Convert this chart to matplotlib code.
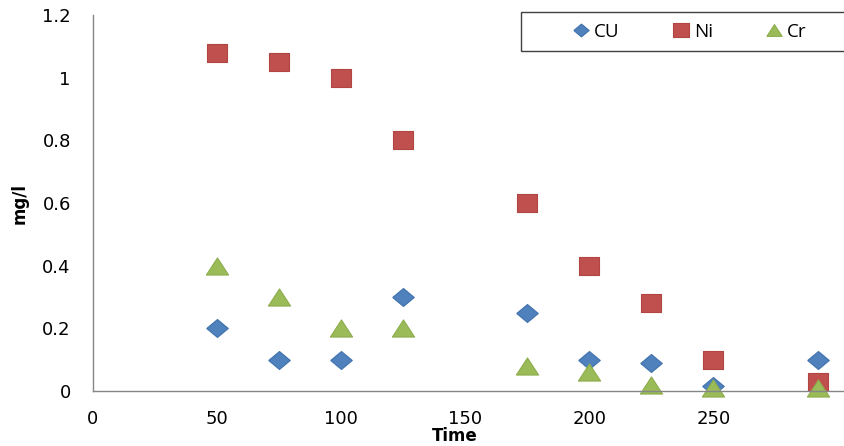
import matplotlib
matplotlib.use("Agg")
import matplotlib.pyplot as plt
from matplotlib.patches import Rectangle

time = [50, 75, 100, 125, 175, 200, 225, 250, 292]
cu = [0.2, 0.1, 0.1, 0.3, 0.25, 0.1, 0.09, 0.015, 0.1]
ni = [1.08, 1.05, 1.0, 0.8, 0.6, 0.4, 0.28, 0.1, 0.03]
cr = [0.4, 0.3, 0.2, 0.2, 0.08, 0.06, 0.02, 0.01, 0.01]
xticks = [0, 50, 100, 150, 200, 250]
yticks = [0, 0.2, 0.4, 0.6, 0.8, 1.0, 1.2]
yticklabels = ["0", "0.2", "0.4", "0.6", "0.8", "1", "1.2"]

W, H = 845, 446
fig = plt.figure(figsize=(W/100, H/100), dpi=100)
ax = fig.add_axes([93/W, 1-391/H, 1-93/W, (391-15)/H])

diamond = [(-1.2, 0), (0, 1), (1.2, 0), (0, -1), (-1.2, 0)]
square = [(-1.1, -1), (1.1, -1), (1.1, 1), (-1.1, 1), (-1.1, -1)]
triangle = [(-1.3, -1), (1.3, -1), (0, 1), (-1.3, -1)]

ax.plot(time, cu, linestyle="none", marker=diamond, markersize=15.5, color="#4F81BD",
        markeredgecolor="#3F71AD", markeredgewidth=0.8, label="CU", clip_on=False)
ax.plot(time, ni, linestyle="none", marker=square, markersize=15, color="#C0504D",
        markeredgecolor="#B04541", markeredgewidth=0.8, label="Ni", clip_on=False)
ax.plot(time, cr, linestyle="none", marker=triangle, markersize=16, color="#9BBB59",
        markeredgecolor="#8DAD4C", markeredgewidth=0.8, label="Cr", clip_on=False)

ax.set_xlim(0, 303)
ax.set_ylim(0, 1.2)
ax.set_xticks(xticks)
ax.set_xticklabels([str(v) for v in xticks])
ax.set_yticks(yticks)
ax.set_yticklabels(yticklabels)
ax.tick_params(axis="both", length=0, labelsize=13, colors="#000000")
ax.tick_params(axis="y", pad=16)
ax.tick_params(axis="x", pad=14)
for s in ["top", "right"]:
    ax.spines[s].set_visible(False)
for s in ["left", "bottom"]:
    ax.spines[s].set_color("#868686")
    ax.spines[s].set_linewidth(1.0)

ax.set_xlabel("Time", fontsize=12, fontweight="bold")
ax.xaxis.set_label_coords((455-93)/(W-93), -(427-391)/376)
ax.set_ylabel("mg/l", fontsize=12, fontweight="bold")
ax.yaxis.set_label_coords(-(93-29)/(W-93), (391-204)/376)

leg = ax.legend(loc="center left", bbox_to_anchor=(571.5/W, 1-32/H),
                bbox_transform=fig.transFigure, ncol=3, frameon=False,
                prop={"family": "Open Sans", "size": 13.5},
                borderpad=0, handlelength=1.0, handletextpad=0.2,
                columnspacing=2.75, borderaxespad=0)
for h in leg.legend_handles:
    h.set_markersize(11)

fig.patches.append(Rectangle((521/W, 1-51/H), (W+60-521)/W, 39/H,
                             transform=fig.transFigure, fill=False,
                             edgecolor="#404040", linewidth=1.0, figure=fig))

fig.savefig("out.png", dpi=100)
